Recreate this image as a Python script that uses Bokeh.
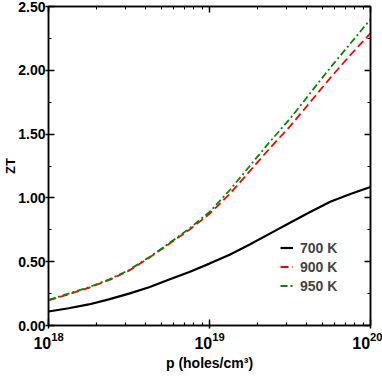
from bokeh.plotting import figure
from bokeh.models import LogAxis, LinearAxis, Range1d, Legend, LegendItem, FixedTicker, NumeralTickFormatter
from bokeh.embed import file_html
from bokeh.resources import INLINE

# data: p (holes/cm^3) and ZT
p_vals = [1e18, 1.334e18, 1.778e18, 2.371e18, 3.162e18, 4.217e18, 5.623e18, 7.499e18,
          1e19, 1.334e19, 1.778e19, 2.371e19, 3.162e19, 4.217e19, 5.623e19, 7.499e19, 1e20]
zt_700 = [0.11, 0.135, 0.165, 0.205, 0.25, 0.30, 0.36, 0.42, 0.485,
          0.555, 0.635, 0.72, 0.805, 0.89, 0.97, 1.03, 1.085]
zt_900 = [0.197, 0.245, 0.295, 0.355, 0.43, 0.53, 0.64, 0.75, 0.875,
          1.03, 1.21, 1.39, 1.56, 1.75, 1.94, 2.12, 2.29]
zt_950 = [0.20, 0.25, 0.30, 0.36, 0.435, 0.535, 0.645, 0.76, 0.89,
          1.06, 1.25, 1.44, 1.62, 1.82, 2.02, 2.21, 2.40]
y_ticks = [0.0, 0.5, 1.0, 1.5, 2.0, 2.5]
y_minor = [0.25, 0.75, 1.25, 1.75, 2.25]
x_ticks = [1e18, 1e19, 1e20]
x_minor = [2e18, 3e18, 4e18, 5e18, 6e18, 7e18, 8e18, 9e18,
           2e19, 3e19, 4e19, 5e19, 6e19, 7e19, 8e19, 9e19]
labels = ["700 K", "900 K", "950 K"]
y_title = "ZT"
x_title = "p (holes/cm\u00b3)"

FONT = "Liberation Sans"

p = figure(width=382, height=382, x_axis_type="log", output_backend="svg",
           toolbar_location=None, x_range=Range1d(1e18, 1e20), y_range=Range1d(0, 2.5),
           min_border_left=43, min_border_right=12, min_border_top=6, min_border_bottom=57)
p.grid.visible = False
p.outline_line_color = "black"
p.outline_line_width = 1.5

r1 = p.line(p_vals, zt_700, line_color="black", line_width=2.2)
r2 = p.line(p_vals, zt_900, line_color="#ff0000", line_width=1.8, line_dash="8 4")
r3 = p.line(p_vals, zt_950, line_color="#008800", line_width=1.8, line_dash="7 3 2 3")

for ax in [p.xaxis[0], p.yaxis[0]]:
    ax.axis_line_width = 1.5
    ax.major_tick_in = 6
    ax.major_tick_out = 3
    ax.minor_tick_in = 3
    ax.minor_tick_out = 0
    ax.major_tick_line_width = 1.5
    ax.minor_tick_line_width = 1.2
    ax.major_label_text_font = FONT
    ax.major_label_text_font_style = "bold"
    ax.major_label_text_color = "black"
    ax.axis_label_text_font = FONT
    ax.axis_label_text_font_style = "bold"
    ax.axis_label_text_color = "black"

p.yaxis[0].ticker = FixedTicker(ticks=y_ticks, minor_ticks=y_minor)
p.yaxis[0].formatter = NumeralTickFormatter(format="0.00")
p.yaxis[0].major_label_standoff = 0
p.yaxis[0].major_label_text_font_size = "14px"
p.yaxis[0].axis_label = y_title
p.yaxis[0].axis_label_text_font_size = "13px"
p.yaxis[0].axis_label_standoff = -3

p.xaxis[0].ticker = FixedTicker(ticks=x_ticks, minor_ticks=x_minor)
p.xaxis[0].major_label_text_font_size = "16px"
p.xaxis[0].axis_label = x_title
p.xaxis[0].axis_label_text_font_size = "14px"
p.xaxis[0].axis_label_standoff = 3
p.xaxis[0].major_label_standoff = 3

# mirrored axes (ticks only)
top = LogAxis(ticker=FixedTicker(ticks=x_ticks, minor_ticks=x_minor),
              major_label_text_alpha=0, major_label_text_font_size="1px", major_tick_in=6,
              major_tick_out=0, minor_tick_in=3, minor_tick_out=0, axis_line_width=1.5,
              major_tick_line_width=1.5, major_label_standoff=0)
right = LinearAxis(ticker=FixedTicker(ticks=y_ticks, minor_ticks=y_minor),
                   major_label_text_alpha=0, major_label_text_font_size="1px", major_tick_in=6,
                   major_tick_out=0, minor_tick_in=3, minor_tick_out=0, axis_line_width=1.5,
                   major_tick_line_width=1.5, major_label_standoff=0)
p.add_layout(top, "above")
p.add_layout(right, "right")

legend = Legend(items=[LegendItem(label=labels[0], renderers=[r1]),
                       LegendItem(label=labels[1], renderers=[r2]),
                       LegendItem(label=labels[2], renderers=[r3])],
                location=(232, 30), background_fill_alpha=0, border_line_alpha=0,
                label_text_font=FONT, label_text_font_style="bold", label_text_font_size="14px",
                glyph_width=13, glyph_height=19, label_standoff=7, spacing=0, padding=0,
                margin=0, label_height=19)
p.add_layout(legend)

open("out.html", "w").write(file_html(p, INLINE))
